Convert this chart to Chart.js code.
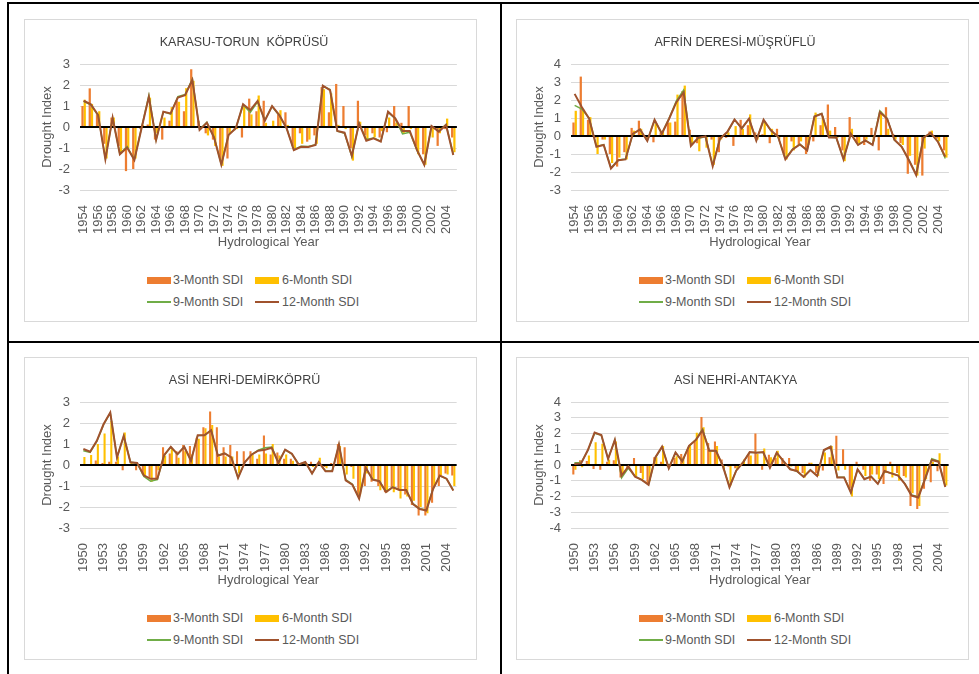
<!DOCTYPE html>
<html>
<head>
<meta charset="utf-8">
<script src="https://cdn.jsdelivr.net/npm/chart.js@4.4.1/dist/chart.umd.min.js"></script>
<style>
  body { margin: 0; background: #fff; width: 979px; height: 674px; overflow: hidden; position: relative; font-family: "Liberation Sans", Arial, sans-serif; }
  .rule { position: absolute; background: #000; }
  .panel { position: absolute; width: 453px; height: 303px; border: 1px solid #d9d9d9; box-sizing: border-box; background: #fff; }
  .panel canvas { position: absolute; left: 0; top: 0; }
  .leg { position: absolute; font-size: 12.5px; line-height: 14px; color: #595959; white-space: nowrap; }
  .mark { position: absolute; width: 24px; }
</style>
</head>
<body>
<div class="rule" style="left:7px;top:2px;width:2px;height:672px"></div>
<div class="rule" style="left:7px;top:2px;width:972px;height:2px"></div>
<div class="rule" style="left:500px;top:2px;width:2px;height:672px"></div>
<div class="rule" style="left:7px;top:341px;width:972px;height:2px"></div>

<div class="panel" id="p1" style="left:24px;top:19px"><canvas id="c1" width="451" height="234"></canvas></div>
<div class="panel" id="p2" style="left:516px;top:19px"><canvas id="c2" width="451" height="234"></canvas></div>
<div class="panel" id="p3" style="left:24px;top:357px"><canvas id="c3" width="451" height="234"></canvas></div>
<div class="panel" id="p4" style="left:516px;top:357px"><canvas id="c4" width="451" height="234"></canvas></div>

<script>
// hydrological years
const yearsA = ['1954','1955','1956','1957','1958','1959','1960','1961','1962','1963',
  '1964','1965','1966','1967','1968','1969','1970','1971','1972','1973',
  '1974','1975','1976','1977','1978','1979','1980','1981','1982','1983',
  '1984','1985','1986','1987','1988','1989','1990','1991','1992','1993',
  '1994','1995','1996','1997','1998','1999','2000','2001','2002','2003',
  '2004','2005'];
const yearsB = ['1950','1951','1952','1953','1954','1955','1956','1957','1958','1959',
  '1960','1961','1962','1963','1964','1965','1966','1967','1968','1969',
  '1970','1971','1972','1973','1974','1975','1976','1977','1978','1979',
  '1980','1981','1982','1983','1984','1985','1986','1987','1988','1989',
  '1990','1991','1992','1993','1994','1995','1996','1997','1998','1999',
  '2000','2001','2002','2003','2004','2005'];

const seriesNames = ['3-Month SDI', '6-Month SDI', '9-Month SDI', '12-Month SDI'];

// KARASU-TORUN KÖPRÜSÜ
const karasu3 = [1.0, 1.84, 0.6, -0.8, 0.45, -0.9, -2.1, -2.0, -0.1, 0.12,
  -0.6, -0.6, 0.3, 1.25, 0.75, 2.75, 0.3, -0.3, -0.6, -1.55,
  -1.5, -0.15, -0.5, 1.35, 0.75, 1.25, 0.05, 0.6, 0.7, -0.9,
  -0.3, -0.7, -0.4, 1.9, 0.7, 2.05, 1.0, -1.0, 1.25, -0.4,
  -0.3, -0.5, -0.25, 1.0, 0.2, 1.0, -0.9, -1.3, 0.05, -0.9,
  -0.1, -0.5];
const karasu6 = [1.3, 1.1, 0.75, -1.5, 0.45, -1.2, -1.0, -1.5, 0.1, 1.4,
  -0.3, 0.45, 0.95, 1.2, 1.85, 2.2, -0.1, -0.4, -0.9, -1.85,
  -0.3, -0.1, 1.0, 0.6, 1.5, 0.2, 0.3, 0.8, 0.1, -1.0,
  -0.8, -0.6, -0.8, 1.8, 1.6, 0.1, -0.1, -1.6, 0.25, -0.6,
  -0.5, -0.2, 0.45, 0.2, -0.3, -0.1, -1.3, -1.8, -0.5, -0.3,
  0.4, -1.2];
const karasu9 = [1.22, 1.05, 0.55, -1.5, 0.42, -1.28, -0.93, -1.55, -0.02, 1.5,
  -0.6, 0.72, 0.62, 1.45, 1.55, 2.28, -0.12, 0.22, -0.48, -1.78,
  -0.36, -0.05, 1.05, 0.7, 1.2, 0.32, 0.98, 0.55, -0.05, -1.08,
  -0.92, -0.93, -0.84, 1.95, 1.78, -0.2, -0.3, -1.4, 0.18, -0.6,
  -0.52, -0.68, 0.7, 0.4, -0.33, -0.25, -1.12, -1.78, 0.04, -0.2,
  0.12, -1.3];
const karasu12 = [1.25, 1.08, 0.57, -1.54, 0.44, -1.3, -0.98, -1.57, -0.05, 1.44,
  -0.62, 0.73, 0.65, 1.4, 1.52, 2.24, -0.14, 0.2, -0.5, -1.8,
  -0.38, -0.06, 1.08, 0.8, 1.24, 0.3, 1.0, 0.57, -0.06, -1.1,
  -0.94, -0.95, -0.86, 1.97, 1.76, -0.19, -0.27, -1.38, 0.17, -0.65,
  -0.54, -0.7, 0.73, 0.41, -0.19, -0.19, -1.1, -1.8, 0.05, -0.22,
  0.1, -1.33];

// AFRİN DERESİ-MÜŞRÜFLÜ
const afrin3 = [0.75, 3.3, 0.9, -0.1, -0.2, -1.0, -1.7, -0.9, 0.45, 0.85,
  -0.2, -0.35, 0.2, 0.75, 0.8, 2.5, 0.35, -0.4, 0.05, -0.2,
  -0.9, -0.1, -0.55, 0.9, 0.6, 0.2, 0.1, -0.4, 0.4, -1.0,
  -0.3, -0.5, -1.0, -0.3, 0.6, 1.75, 0.5, -0.8, 1.05, -0.4,
  -0.5, 0.45, -0.8, 1.6, 0.1, -0.4, -2.1, -1.6, -2.2, 0.25,
  -0.15, -0.8];
const afrin6 = [1.4, 1.5, 1.05, -1.0, -0.2, -1.5, -1.2, -1.3, 0.3, 0.4,
  -0.1, 0.7, 0.3, 0.75, 2.3, 2.8, -0.4, -0.85, -0.65, -1.6,
  -0.2, 0.2, 0.55, 0.4, 1.2, -0.2, 0.8, 0.4, -0.2, -1.3,
  -0.8, -0.3, -0.5, 1.3, 1.1, 0.3, -0.1, -1.4, 0.4, -0.4,
  -0.2, -0.3, 1.35, 0.4, -0.2, -0.5, -1.1, -2.2, -0.7, 0.3,
  -0.3, -1.2];
const afrin9 = [1.7, 1.5, 0.98, -0.58, -0.48, -1.78, -1.33, -1.28, 0.1, 0.35,
  -0.26, 0.88, 0.15, 0.98, 1.95, 2.55, -0.5, -0.12, -0.04, -1.62,
  -0.14, 0.2, 0.9, 0.42, 0.94, -0.24, 0.88, 0.3, -0.06, -1.26,
  -0.72, -0.45, -0.78, 1.1, 1.25, -0.06, -0.1, -1.26, 0.12, -0.48,
  -0.24, -0.48, 1.4, 0.98, -0.22, -0.58, -1.32, -2.12, -0.08, 0.16,
  -0.3, -1.25];
const afrin12 = [2.34, 1.6, 0.96, -0.6, -0.5, -1.8, -1.35, -1.3, 0.12, 0.37,
  -0.28, 0.9, 0.13, 0.96, 1.88, 2.43, -0.55, -0.1, -0.02, -1.68,
  -0.15, 0.22, 0.92, 0.42, 0.96, -0.26, 0.9, 0.32, -0.04, -1.3,
  -0.75, -0.47, -0.8, 1.08, 1.23, -0.08, -0.08, -1.3, 0.13, -0.5,
  -0.25, -0.5, 1.33, 0.96, -0.2, -0.6, -1.35, -2.17, -0.1, 0.18,
  -0.33, -1.15];

// ASİ NEHRİ-DEMİRKÖPRÜ
const demir3 = [0.05, 0.05, 0.22, 0.1, 0.15, 0.15, -0.25, 0.05, -0.25, -0.45,
  -0.6, -0.7, 0.85, 0.55, 0.65, 0.95, 0.9, 1.3, 1.8, 2.55,
  1.8, 0.85, 0.95, 0.65, 0.65, 0.65, 0.3, 1.4, 0.5, 0.6,
  0.3, 0.3, 0.1, 0.15, 0.15, 0.1, -0.1, 0.1, 1.0, 0.85,
  -0.1, -1.5, -1.0, -0.8, -1.0, -1.3, -1.1, -1.2, -1.4, -1.9,
  -2.4, -2.4, -1.8, -1.0, -0.4, -0.5];
const demir6 = [0.38, 0.48, 1.0, 1.5, 2.1, 0.4, 1.55, 0.1, 0.05, -0.5,
  -0.8, -0.25, 0.45, 0.8, 0.35, 0.65, 0.5, 1.25, 1.75, 1.9,
  0.4, 0.4, 0.4, -0.4, 0.05, 0.5, 0.5, 0.55, 1.0, 0.45,
  0.5, 0.2, 0.05, 0.1, -0.1, 0.35, -0.15, -0.1, 0.9, -0.45,
  -0.65, -1.4, -0.4, -0.7, -1.2, -1.3, -1.3, -1.6, -1.5, -1.7,
  -2.0, -2.3, -1.0, -0.5, -0.45, -1.0];
const demir9 = [0.68, 0.6, 1.12, 1.92, 2.48, 0.38, 1.37, 0.14, 0.08, -0.55,
  -0.77, -0.7, 0.45, 0.85, 0.5, 0.86, 0.22, 1.4, 1.42, 1.64,
  0.46, 0.56, 0.35, -0.6, 0.14, 0.5, 0.7, 0.82, 0.86, 0.12,
  0.72, 0.52, 0.04, 0.12, -0.4, 0.13, -0.28, -0.28, 0.96, -0.7,
  -0.92, -1.56, -0.15, -0.68, -0.76, -1.26, -1.05, -1.18, -1.2, -1.84,
  -2.08, -2.14, -1.12, -0.52, -0.66, -1.2];
const demir12 = [0.76, 0.63, 1.15, 1.94, 2.5, 0.36, 1.39, 0.13, 0.1, -0.5,
  -0.66, -0.66, 0.47, 0.87, 0.52, 0.87, 0.2, 1.42, 1.42, 1.66,
  0.44, 0.55, 0.36, -0.62, 0.13, 0.49, 0.68, 0.73, 0.82, 0.1,
  0.73, 0.54, 0.03, 0.14, -0.41, 0.14, -0.3, -0.3, 0.98, -0.73,
  -0.94, -1.6, -0.13, -0.7, -0.77, -1.29, -1.06, -1.19, -1.19, -1.86,
  -2.1, -2.17, -1.14, -0.5, -0.65, -1.22];

// ASİ NEHRİ-ANTAKYA
const antakya3 = [-0.6, 0.3, 0.25, -0.25, -0.3, 0.2, 0.3, -0.8, -0.2, 0.45,
  -0.5, -1.2, 0.5, 0.2, -0.1, 0.45, 0.7, 1.0, 1.5, 3.05,
  1.4, 1.5, 0.35, -0.1, -0.2, 0.15, 0.7, 2.0, -0.3, 0.65,
  0.45, 0.45, 0.45, -0.35, -0.5, 0.15, -0.5, -0.35, 0.5, 1.85,
  1.0, -1.5, 0.2, -0.3, -1.0, -0.6, -1.2, 0.2, -0.5, -0.7,
  -2.6, -2.8, -1.5, -1.1, -0.4, -1.0];
const antakya6 = [-0.3, -0.15, 0.6, 1.45, 1.35, 0.35, 1.5, -0.6, -0.1, -0.7,
  -0.9, -1.0, 0.5, 1.2, -0.1, 0.55, 0.5, 1.25, 2.05, 2.4,
  0.9, 1.2, -0.3, -1.3, -0.3, 0.35, 0.6, 0.7, 1.05, 0.5,
  0.9, 0.1, -0.1, -0.4, -0.8, 0.15, -0.7, 0.8, 1.2, -0.35,
  -0.3, -2.0, -0.1, -0.7, -0.6, -0.9, -0.5, -0.8, -1.0, -0.8,
  -1.8, -2.6, -0.9, 0.2, 0.75, -1.3];
const antakya9 = [0.15, 0.15, 0.92, 2.02, 1.88, 0.4, 1.58, -0.82, -0.2, -0.72,
  -0.94, -1.24, 0.46, 1.14, -0.2, 0.78, 0.25, 1.2, 1.6, 2.28,
  0.92, 0.88, -0.02, -1.38, -0.34, 0.16, 0.8, 0.8, 0.8, -0.15,
  0.76, 0.24, -0.26, -0.4, -0.74, -0.3, -0.68, 0.92, 1.18, -0.78,
  -0.78, -1.72, -0.28, -0.88, -0.72, -1.18, -0.4, -0.52, -0.66, -1.18,
  -1.9, -2.02, -0.86, 0.4, 0.25, -1.35];
const antakya12 = [0.06, 0.1, 0.95, 2.06, 1.9, 0.38, 1.6, -0.67, -0.1, -0.74,
  -0.95, -1.26, 0.48, 1.16, -0.21, 0.8, 0.23, 1.22, 1.58, 2.21,
  0.9, 0.9, -0.04, -1.41, -0.36, 0.15, 0.82, 0.78, 0.82, -0.17,
  0.78, 0.25, -0.27, -0.38, -0.76, -0.32, -0.7, 0.95, 1.16, -0.8,
  -0.8, -1.75, -0.27, -0.9, -0.74, -1.2, -0.38, -0.53, -0.67, -1.2,
  -1.94, -2.06, -0.9, 0.32, 0.21, -1.39];

const colors = ['#ED7D31', '#FFC000', '#70AD47', '#A0522D'];
const font = '"Liberation Sans", Arial, sans-serif';
const grey = '#595959';

const panels = [
  { canvas: 'c1', box: 'p1', title: 'KARASU-TORUN  KÖPRÜSÜ', labels: yearsA, step: 2, min: -3, max: 3, left: 55, right: 13,
    data: [karasu3, karasu6, karasu9, karasu12] },
  { canvas: 'c2', box: 'p2', title: 'AFRİN DERESİ-MÜŞRÜFLÜ', labels: yearsA, step: 2, min: -3, max: 4, left: 54, right: 15,
    data: [afrin3, afrin6, afrin9, afrin12] },
  { canvas: 'c3', box: 'p3', title: 'ASİ NEHRİ-DEMİRKÖPRÜ', labels: yearsB, step: 3, min: -3, max: 3, left: 55, right: 12,
    data: [demir3, demir6, demir9, demir12] },
  { canvas: 'c4', box: 'p4', title: 'ASİ NEHRİ-ANTAKYA', labels: yearsB, step: 3, min: -4, max: 4, left: 54, right: 14,
    data: [antakya3, antakya6, antakya9, antakya12] }
];

// black zero axis, drawn over the bars but under the lines
const zeroLine = {
  id: 'zeroLine',
  afterDatasetDraw(chart, args) {
    if (args.index !== 0) return;
    const y = chart.scales.y.getPixelForValue(0);
    const { left, right } = chart.chartArea;
    const c = chart.ctx;
    c.save();
    c.strokeStyle = '#000';
    c.lineWidth = 2;
    c.beginPath();
    c.moveTo(left, y);
    c.lineTo(right, y);
    c.stroke();
    c.restore();
  }
};

function barSet(i, values) {
  return {
    type: 'bar', label: seriesNames[i], data: values, backgroundColor: colors[i],
    categoryPercentage: 0.62, barPercentage: 1.0, order: 2 + i
  };
}

function lineSet(i, values, width) {
  return {
    type: 'line', label: seriesNames[i], data: values, borderColor: colors[i],
    borderWidth: width, pointRadius: 0, tension: 0, order: 3 - i
  };
}

function drawLegend(boxId) {
  const box = document.getElementById(boxId);
  const slots = [[122, 148, 260], [230, 257, 260], [122, 148, 282], [230, 257, 282]];
  seriesNames.forEach((name, i) => {
    const [mx, tx, cy] = slots[i];
    const mark = document.createElement('div');
    mark.className = 'mark';
    const h = i < 2 ? 7 : 2;
    mark.style.cssText = `left:${mx}px;top:${cy - h / 2}px;height:${h}px;background:${colors[i]}`;
    box.appendChild(mark);
    const txt = document.createElement('div');
    txt.className = 'leg';
    txt.style.cssText = `left:${tx}px;top:${cy - 7}px`;
    txt.textContent = name;
    box.appendChild(txt);
  });
}

function drawPanel(p) {
  new Chart(document.getElementById(p.canvas), {
    data: {
      labels: p.labels,
      datasets: [
        barSet(0, p.data[0]),
        barSet(1, p.data[1]),
        lineSet(2, p.data[2], 1.5),
        lineSet(3, p.data[3], 2)
      ]
    },
    options: {
      responsive: false,
      animation: false,
      devicePixelRatio: 1,
      layout: { padding: { left: 0, right: p.right, top: 0, bottom: 0 } },
      plugins: {
        legend: { display: false },
        tooltip: { enabled: false },
        title: {
          display: true, text: p.title, color: '#404040',
          font: { family: font, size: 12.5, weight: 'normal' },
          padding: { top: 15, bottom: 14 }
        }
      },
      scales: {
        x: {
          grid: { display: false },
          border: { display: false },
          ticks: {
            autoSkip: false, minRotation: 90, maxRotation: 90, padding: 7, color: grey,
            font: { family: font, size: 13 },
            callback: function (val, i) { return i % p.step === 0 ? this.getLabelForValue(val) : ''; }
          },
          title: {
            display: true, text: 'Hydrological Year', color: grey,
            font: { family: font, size: 13 }, padding: { top: 0, bottom: 4 }
          },
          afterFit: s => { s.height = 64; }
        },
        y: {
          min: p.min, max: p.max,
          border: { display: false },
          grid: {
            drawTicks: false,
            color: c => c.tick.value === 0 ? 'rgba(0,0,0,0)' : '#d9d9d9'
          },
          ticks: { stepSize: 1, autoSkip: false, padding: 10, color: grey, font: { family: font, size: 13 } },
          title: {
            display: true, text: 'Drought Index', color: grey,
            font: { family: font, size: 13 }, padding: { top: 15, bottom: 0 }
          },
          afterFit: s => { s.width = p.left; }
        }
      }
    },
    plugins: [zeroLine]
  });
  drawLegend(p.box);
}

panels.forEach(drawPanel);
</script>
</body>
</html>
